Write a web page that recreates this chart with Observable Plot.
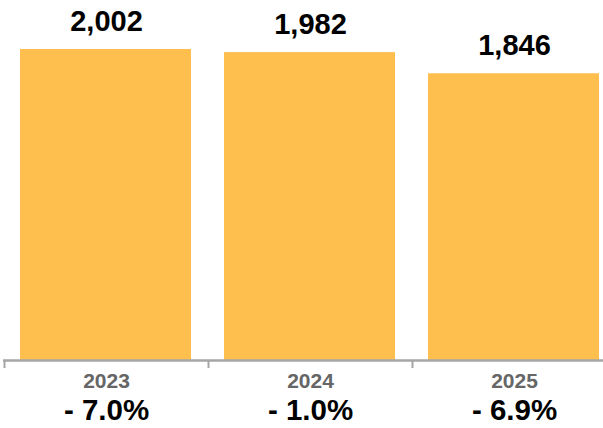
<!DOCTYPE html>
<html>
<head>
<meta charset="utf-8">
<script src="https://cdn.jsdelivr.net/npm/d3@7"></script>
<script src="https://cdn.jsdelivr.net/npm/@observablehq/plot@0.6"></script>
<style>
  html, body { margin: 0; padding: 0; background: #fff; }
  #chart svg { display: block; }
</style>
</head>
<body>
<div id="chart"></div>
<script>
const years = ["2023", "2024", "2025"];
const values = [2002, 1982, 1846];
const changes = ["- 7.0%", "- 1.0%", "- 6.9%"];
const tickPositions = [0, 1, 2];

const data = years.map((y, i) => ({ i, year: y, value: values[i], change: changes[i] }));
const fmt = d3.format(",");
const font = "'Liberation Sans', Arial, Helvetica, sans-serif";

const chart = Plot.plot({
  width: 603,
  height: 428,
  marginTop: 49,
  marginBottom: 68,
  marginLeft: 3,
  marginRight: 0,
  style: { fontFamily: font, background: "#fff" },
  x: { type: "linear", domain: [0, 3], range: [4, 616], axis: null },
  y: { domain: [0, 2002], axis: null },
  marks: [
    Plot.rectY(data, { x1: d => d.i, x2: d => d.i + 1, y: "value", insetLeft: 16, insetRight: 17, fill: "#FFBF4F" }),
    Plot.ruleY([0], { stroke: "#a6a6a6", strokeWidth: 2.5 }),
    Plot.axisX(tickPositions, { tickSize: 8, tickFormat: null, stroke: "#a6a6a6", strokeWidth: 2, text: null }),
    Plot.text(data, { x: d => d.i + 0.5, y: "value", text: d => fmt(d.value), dy: -28, fontSize: 29, fontWeight: "bold", fill: "#000" }),
    Plot.text(data, { x: d => d.i + 0.5, y: 0, text: "year", dy: 21, fontSize: 21, fontWeight: "bold", fill: "#666" }),
    Plot.text(data, { x: d => d.i + 0.5, y: 0, text: "change", dy: 50, fontSize: 29.5, fontWeight: "bold", fill: "#000" })
  ]
});
document.getElementById("chart").appendChild(chart);
</script>
</body>
</html>
